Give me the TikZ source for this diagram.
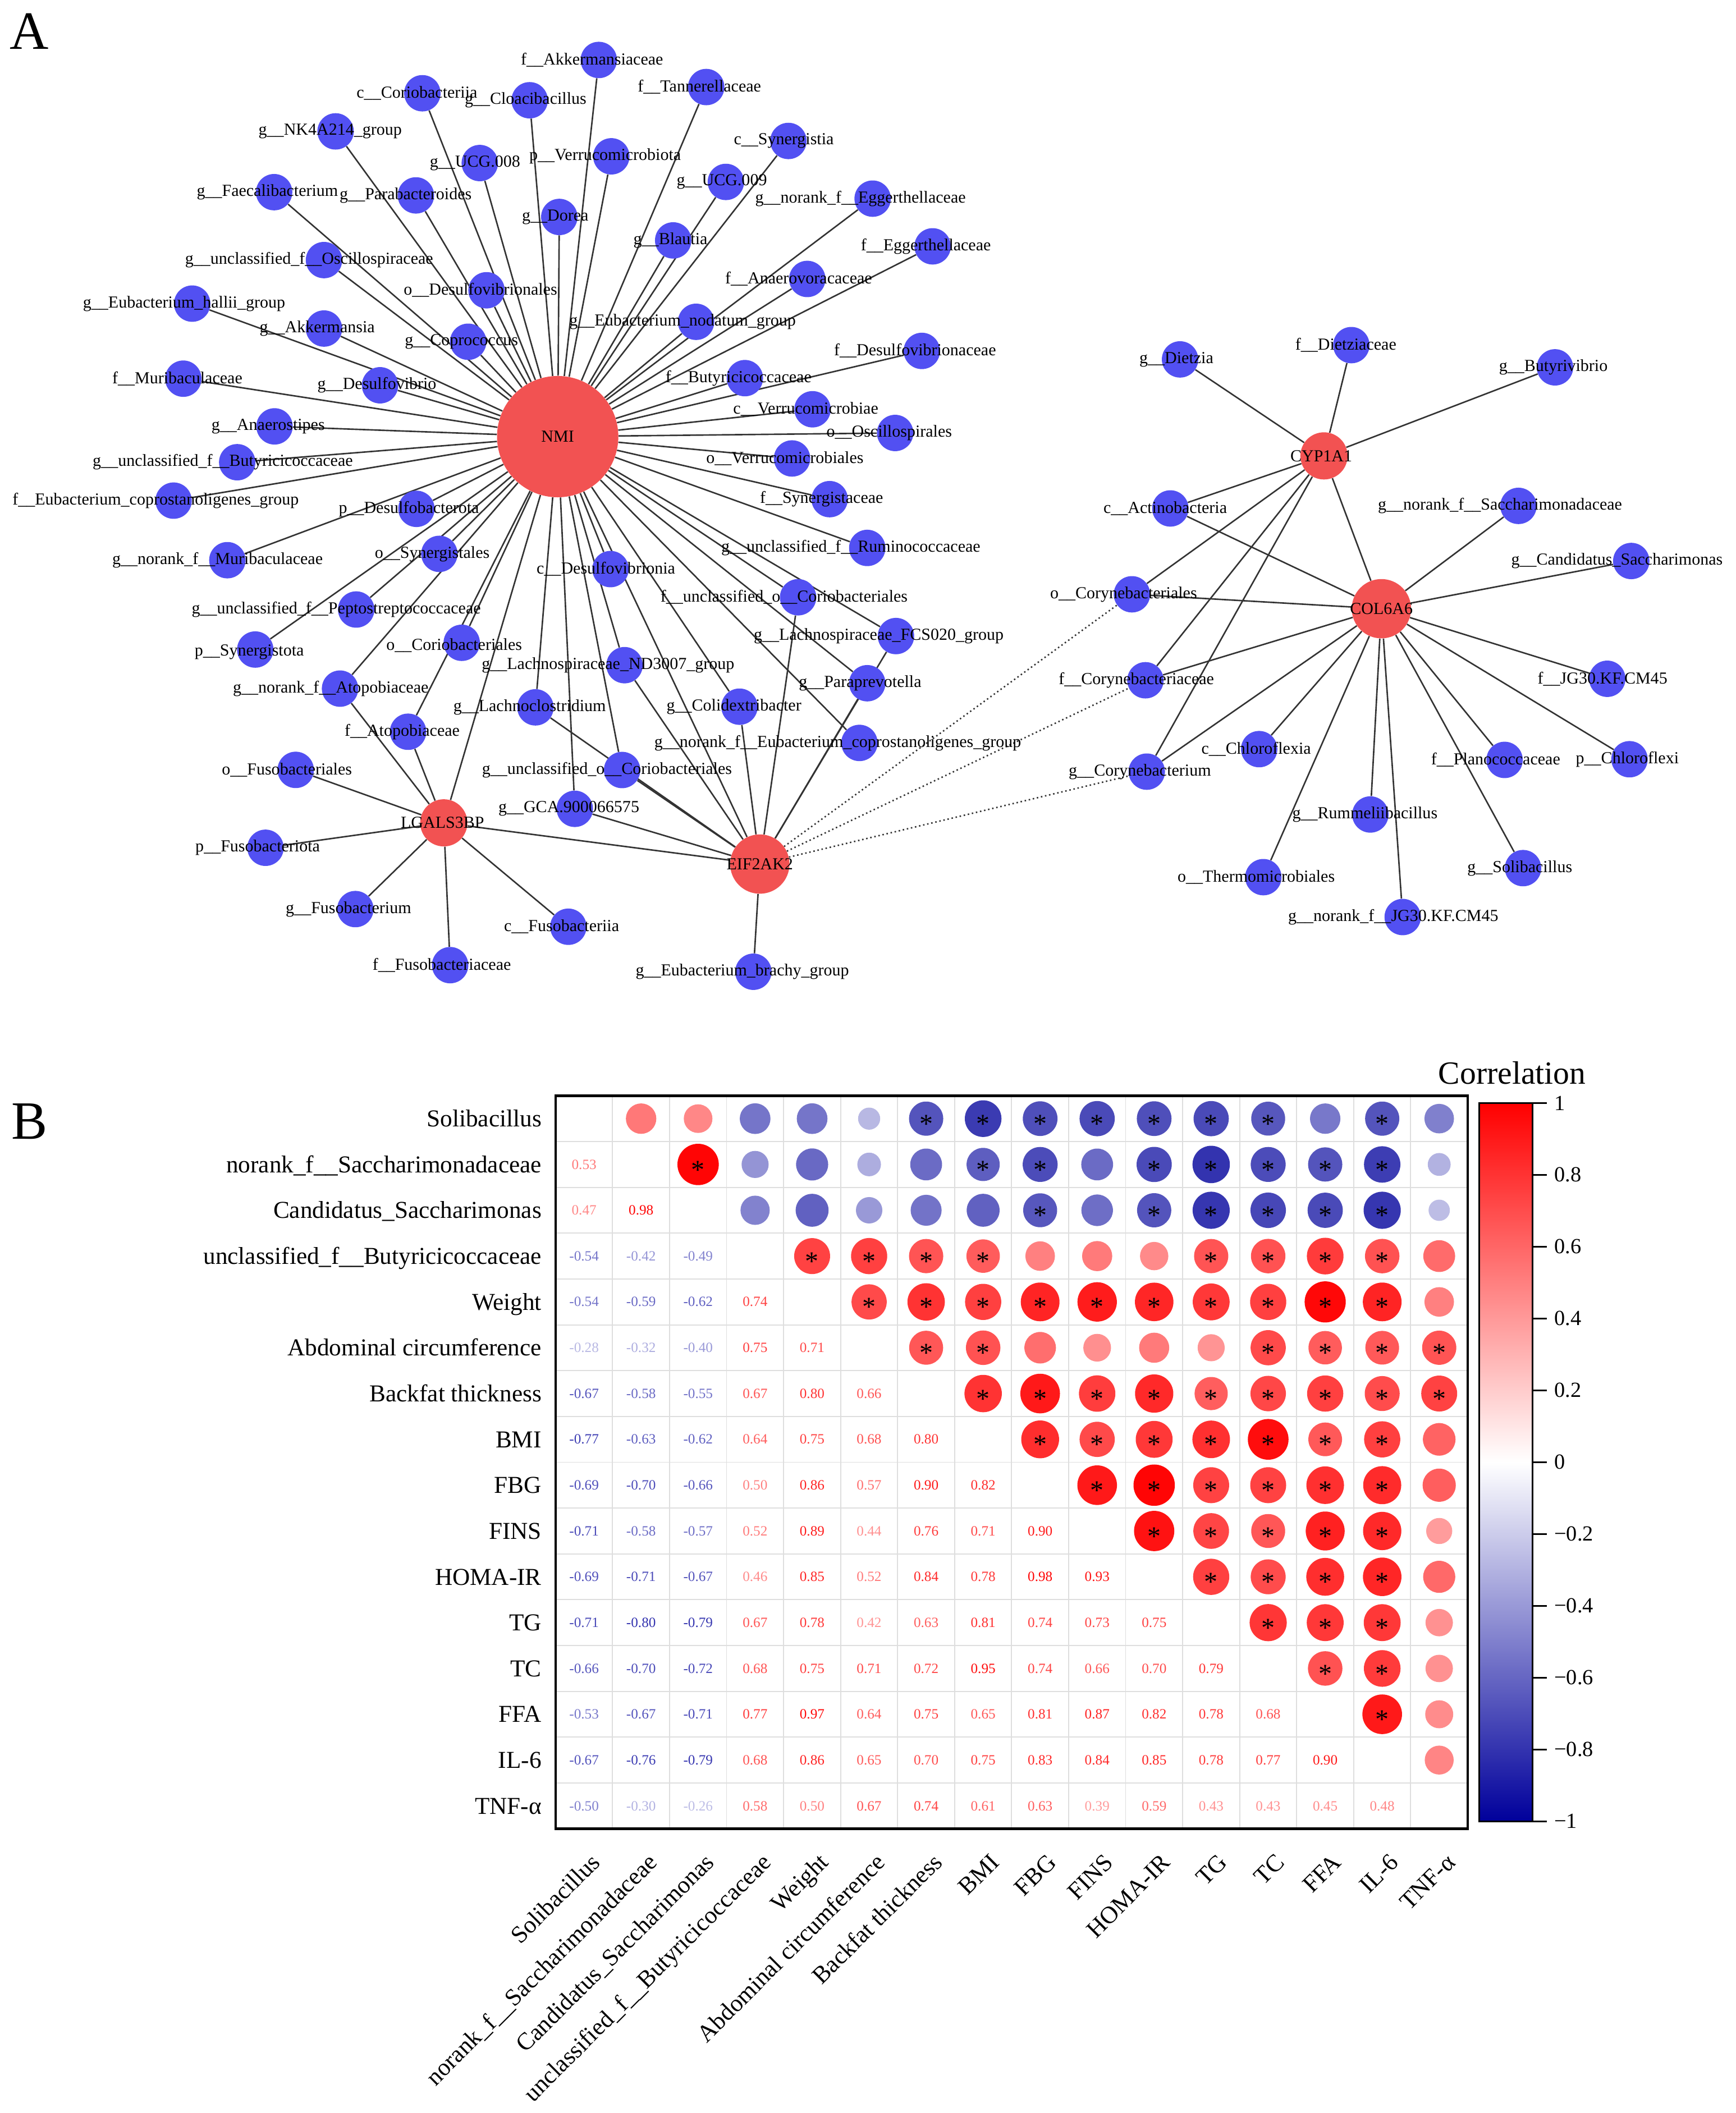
\documentclass[tikz,border=0pt]{standalone}
\usepackage{fontspec}
\setmainfont{Liberation Serif}
\usepackage{xcolor}
\definecolor{microblue}{RGB}{82,80,242}
\definecolor{genered}{RGB}{242,82,82}
\definecolor{negblue}{RGB}{0,0,155}
\definecolor{gridgray}{RGB}{222,222,222}
\pgfdeclarelayer{edges}
\pgfsetlayers{edges,main}
\tikzset{
    micro/.style = {circle, fill=microblue, minimum size=27pt, inner sep=0pt},
    gene/.style = {circle, fill=genered, inner sep=0pt},
    taxon/.style = {font=\fontsize{12.5}{14}\selectfont, inner sep=0pt},
    link/.style = {draw=black!80, line width=1.1pt},
    weak link/.style = {link, dotted},
    valtext/.style = {font=\fontsize{10.5}{12}\selectfont, inner sep=0pt},
    sigmark/.style = {font=\fontsize{20}{20}\selectfont, anchor=base, yshift=-10.5pt, inner sep=0pt},
    rowlab/.style = {font=\fontsize{18}{20}\selectfont, anchor=base east, yshift=-6pt, inner sep=0pt},
    collab/.style = {font=\fontsize{18}{20}\selectfont, anchor=base east, rotate=45, inner sep=0pt},
    barlab/.style = {font=\fontsize{16}{18}\selectfont, anchor=west, xshift=5pt, inner sep=0pt},
    panel/.style = {font=\fontsize{40}{40}\selectfont, inner sep=0pt},
}

\begin{document}
\begin{tikzpicture}[x=1pt, y=-1pt]
\useasboundingbox (0,0) rectangle (1288,1568);

\node[panel] (panelA) at (21.6,23.4) {A};
\node[panel] (panelB) at (22,832) {B};

% gene hubs
\node[gene, minimum size=90pt, label={[taxon]center:NMI}] (nmi) at (413.8,324) {};
\node[gene, minimum size=35pt, label={[taxon, xshift=-1pt]center:LGALS3BP}] (lgals3bp) at (329.3,610.6) {};
\node[gene, minimum size=44pt, label={[taxon]center:EIF2AK2}] (eif2ak2) at (563.8,641.2) {};
\node[gene, minimum size=35pt, label={[taxon, xshift=-2pt]center:CYP1A1}] (cyp1a1) at (982.4,338.3) {};
\node[gene, minimum size=44pt, label={[taxon]center:COL6A6}] (col6a6) at (1025,451.7) {};

% taxa around NMI
\node[micro, label={[taxon, xshift=-4pt]center:c\_\_Coriobacteriia}] (coriobacteriia) at (313.4,69.2) {};
\node[micro, label={[taxon, xshift=-3pt]center:g\_\_Cloacibacillus}] (cloacibacillus) at (393,74.4) {};
\node[micro, label={[taxon, xshift=-5pt]center:f\_\_Akkermansiaceae}] (akkermansiaceae) at (444.3,44.5) {};
\node[micro, label={[taxon, xshift=-5pt]center:f\_\_Tannerellaceae}] (tannerellaceae) at (524,64.6) {};
\node[micro, label={[taxon, xshift=-4pt]center:g\_\_NK4A214\_group}] (nkgroup) at (249,97.5) {};
\node[micro, label={[taxon, xshift=-3.5pt]center:g\_\_UCG.008}] (ucgeight) at (356,121) {};
\node[micro, label={[taxon, xshift=-4.6pt]center:p\_\_Verrucomicrobiota}] (verrucomicrobiota) at (453.6,116) {};
\node[micro, label={[taxon, xshift=-3.4pt]center:c\_\_Synergistia}] (synergistia) at (585,104.6) {};
\node[micro, label={[taxon, xshift=-3pt]center:g\_\_UCG.009}] (ucgnine) at (538.6,135) {};
\node[micro, label={[taxon, xshift=-9pt]center:g\_\_norank\_f\_\_Eggerthellaceae}] (noreggerth) at (647.5,147.4) {};
\node[micro, label={[taxon, xshift=-5pt]center:g\_\_Faecalibacterium}] (faecalibacterium) at (203.4,142.6) {};
\node[micro, label={[taxon, xshift=-7.6pt]center:g\_\_Parabacteroides}] (parabacteroides) at (308.6,145) {};
\node[micro, label={[taxon, xshift=-3pt]center:g\_\_Dorea}] (dorea) at (415,161) {};
\node[micro, label={[taxon, xshift=-2pt]center:g\_\_Blautia}] (blautia) at (499.5,178.4) {};
\node[micro, label={[taxon, xshift=-5pt]center:f\_\_Eggerthellaceae}] (eggerth) at (692,182.8) {};
\node[micro, label={[taxon, xshift=-11pt]center:g\_\_unclassified\_f\_\_Oscillospiraceae}] (uncoscillo) at (240.4,193) {};
\node[micro, label={[taxon, xshift=-4.5pt]center:o\_\_Desulfovibrionales}] (desulfovibrionales) at (361,215.4) {};
\node[micro, label={[taxon, xshift=-6.4pt]center:f\_\_Anaerovoracaceae}] (anaerovora) at (599,207) {};
\node[micro, label={[taxon, xshift=-6pt]center:g\_\_Eubacterium\_hallii\_group}] (hallii) at (142.6,225.3) {};
\node[micro, label={[taxon, xshift=-5pt]center:g\_\_Akkermansia}] (akkermansia) at (240.4,243.8) {};
\node[micro, label={[taxon, xshift=-10pt]center:g\_\_Eubacterium\_nodatum\_group}] (nodatum) at (516.5,238.8) {};
\node[micro, label={[taxon, xshift=-5pt]center:g\_\_Coprococcus}] (coprococcus) at (347.4,253.6) {};
\node[micro, label={[taxon, xshift=-5pt]center:f\_\_Desulfovibrionaceae}] (desulfovibrionaceae) at (684,260.4) {};
\node[micro, label={[taxon, xshift=-2.3pt]center:g\_\_Desulfovibrio}] (desulfovibrio) at (282,285.9) {};
\node[micro, label={[taxon, xshift=-4.4pt]center:f\_\_Muribaculaceae}] (muribaculaceae) at (136,281) {};
\node[micro, label={[taxon, xshift=-4.7pt]center:f\_\_Butyricicoccaceae}] (butyricicoccaceae) at (552.7,280.6) {};
\node[micro, label={[taxon, xshift=-5pt]center:c\_\_Verrucomicrobiae}] (verrucomicrobiae) at (602.9,303.7) {};
\node[micro, label={[taxon, xshift=-4.7pt]center:g\_\_Anaerostipes}] (anaerostipes) at (203.7,316.4) {};
\node[micro, label={[taxon, xshift=-4.4pt]center:o\_\_Oscillospirales}] (oscillospirales) at (664.2,321.3) {};
\node[micro, label={[taxon, xshift=-10.7pt]center:g\_\_unclassified\_f\_\_Butyricicoccaceae}] (uncbutyri) at (176,343) {};
\node[micro, label={[taxon, xshift=-5.3pt]center:o\_\_Verrucomicrobiales}] (verrucomicrobiales) at (587.7,340.2) {};
\node[micro, label={[taxon, xshift=-13.3pt]center:f\_\_Eubacterium\_coprostanoligenes\_group}] (euhcopro) at (128.8,371.5) {};
\node[micro, label={[taxon, xshift=-5.6pt]center:p\_\_Desulfobacterota}] (desulfobacterota) at (309,377.6) {};
\node[micro, label={[taxon, xshift=-6pt]center:f\_\_Synergistaceae}] (synergistaceae) at (615.6,370.4) {};
\node[micro, label={[taxon, xshift=-7.3pt]center:g\_\_norank\_f\_\_Muribaculaceae}] (normuri) at (168.7,415.7) {};
\node[micro, label={[taxon, xshift=-5.3pt]center:o\_\_Synergistales}] (synergistales) at (326,411) {};
\node[micro, label={[taxon, xshift=-12.2pt]center:g\_\_unclassified\_f\_\_Ruminococcaceae}] (uncrumino) at (643.5,406.6) {};
\node[micro, label={[taxon, xshift=-3.4pt]center:c\_\_Desulfovibrionia}] (desulfovibrionia) at (453,422.3) {};
\node[micro, label={[taxon, xshift=-14.8pt]center:g\_\_unclassified\_f\_\_Peptostreptococcaceae}] (uncpepto) at (264.3,452.3) {};
\node[micro, label={[taxon, xshift=-10.4pt]center:f\_\_unclassified\_o\_\_Coriobacteriales}] (funccorio) at (592.2,443.2) {};
\node[micro, label={[taxon, xshift=-5.6pt, yshift=-2pt]center:o\_\_Coriobacteriales}] (coriobacteriales) at (342.6,477) {};
\node[micro, label={[taxon, xshift=-4.4pt, yshift=-2pt]center:p\_\_Synergistota}] (synergistota) at (189.4,482) {};
\node[micro, label={[taxon, xshift=-12.8pt]center:g\_\_Lachnospiraceae\_FCS020\_group}] (fcsgroup) at (664.8,472) {};
\node[micro, label={[taxon, xshift=-12.2pt]center:g\_\_Lachnospiraceae\_ND3007\_group}] (ndgroup) at (463.4,493.6) {};
\node[micro, label={[taxon, xshift=-5.3pt]center:g\_\_Paraprevotella}] (paraprevotella) at (643.5,507) {};
\node[micro, label={[taxon, xshift=-6.9pt]center:g\_\_norank\_f\_\_Atopobiaceae}] (noratopo) at (252.3,511) {};
\node[micro, label={[taxon, xshift=-4.3pt]center:g\_\_Lachnoclostridium}] (lachnoclostridium) at (397.3,524.9) {};
\node[micro, label={[taxon, xshift=-4.1pt]center:g\_\_Colidextribacter}] (colidextribacter) at (548.7,524.4) {};
\node[micro, label={[taxon, xshift=-4.4pt]center:f\_\_Atopobiaceae}] (atopobiaceae) at (302.8,543) {};
\node[micro, label={[taxon, xshift=-16.1pt]center:g\_\_norank\_f\_\_Eubacterium\_coprostanoligenes\_group}] (norcopro) at (637.7,551.3) {};
\node[micro, label={[taxon, xshift=-11.2pt]center:g\_\_unclassified\_o\_\_Coriobacteriales}] (gunccorio) at (461.6,571.4) {};
\node[micro, label={[taxon, xshift=-4.4pt]center:g\_\_GCA.900066575}] (gca) at (426.5,600.2) {};

% taxa of LGALS3BP and EIF2AK2 only
\node[micro, label={[taxon, xshift=-6.5pt]center:o\_\_Fusobacteriales}] (fusobacteriales) at (219.4,571.3) {};
\node[micro, label={[taxon, xshift=-5.8pt]center:p\_\_Fusobacteriota}] (fusobacteriota) at (197,629.1) {};
\node[micro, label={[taxon, xshift=-5.1pt]center:g\_\_Fusobacterium}] (fusobacterium) at (263.7,674.6) {};
\node[micro, label={[taxon, xshift=-6.2pt]center:f\_\_Fusobacteriaceae}] (fusobacteriaceae) at (334,716.2) {};
\node[micro, label={[taxon, xshift=-5pt]center:c\_\_Fusobacteriia}] (fusobacteriia) at (421.7,687.7) {};
\node[micro, label={[taxon, xshift=-8.2pt]center:g\_\_Eubacterium\_brachy\_group}] (brachy) at (559,721.1) {};

% taxa around CYP1A1 and COL6A6
\node[micro, label={[taxon, xshift=-2.7pt]center:g\_\_Dietzia}] (dietzia) at (875.6,266.7) {};
\node[micro, label={[taxon, xshift=-4.1pt]center:f\_\_Dietziaceae}] (dietziaceae) at (1002.7,256.1) {};
\node[micro, label={[taxon, xshift=-1.2pt]center:g\_\_Butyrivibrio}] (butyrivibrio) at (1153.8,272.6) {};
\node[micro, label={[taxon, xshift=-3.8pt]center:c\_\_Actinobacteria}] (actinobacteria) at (868.4,377.3) {};
\node[micro, label={[taxon, xshift=-13.7pt]center:g\_\_norank\_f\_\_Saccharimonadaceae}] (norsaccha) at (1126.7,375.4) {};
\node[micro, label={[taxon, xshift=-10.6pt]center:g\_\_Candidatus\_Saccharimonas}] (candidatus) at (1210.4,416.3) {};
\node[micro, label={[taxon, xshift=-6.2pt]center:o\_\_Corynebacteriales}] (corynebacteriales) at (839.9,441) {};
\node[micro, label={[taxon, xshift=-6.7pt]center:f\_\_Corynebacteriaceae}] (corynebacteriaceae) at (849.9,504.8) {};
\node[micro, label={[taxon, xshift=-3.5pt]center:f\_\_JG30.KF.CM45}] (jgcm) at (1192.6,503.7) {};
\node[micro, label={[taxon, xshift=-2.2pt]center:c\_\_Chloroflexia}] (chloroflexia) at (934.3,555.9) {};
\node[micro, label={[taxon, xshift=-5.1pt]center:g\_\_Corynebacterium}] (corynebacterium) at (850.9,572.6) {};
\node[micro, label={[taxon, xshift=-6.6pt]center:f\_\_Planococcaceae}] (planococcaceae) at (1116.4,563.9) {};
\node[micro, label={[taxon, xshift=-1.6pt]center:p\_\_Chloroflexi}] (chloroflexi) at (1209.1,563.4) {};
\node[micro, label={[taxon, xshift=-4pt]center:g\_\_Rummeliibacillus}] (rummeliibacillus) at (1016.8,604.4) {};
\node[micro, label={[taxon, xshift=-5.3pt]center:o\_\_Thermomicrobiales}] (thermomicrobiales) at (937.4,650.9) {};
\node[micro, label={[taxon, xshift=-2.4pt]center:g\_\_Solibacillus}] (solibacillus) at (1130.1,644.2) {};
\node[micro, label={[taxon, xshift=-7pt]center:g\_\_norank\_f\_\_JG30.KF.CM45}] (norjgcm) at (1040.8,680.5) {};

% connectors behind the nodes
\begin{pgfonlayer}{edges}
  \foreach \t in {coriobacteriia, cloacibacillus, akkermansiaceae, tannerellaceae, nkgroup, ucgeight, verrucomicrobiota, synergistia, ucgnine, noreggerth, faecalibacterium, parabacteroides, dorea, blautia, eggerth, uncoscillo, desulfovibrionales, anaerovora, hallii, akkermansia, nodatum, coprococcus, desulfovibrionaceae, desulfovibrio, muribaculaceae, butyricicoccaceae, verrucomicrobiae, anaerostipes, oscillospirales, uncbutyri, verrucomicrobiales, euhcopro, desulfobacterota, synergistaceae, normuri, synergistales, uncrumino, desulfovibrionia, uncpepto, funccorio, coriobacteriales, synergistota, fcsgroup, ndgroup, paraprevotella, noratopo, lachnoclostridium, colidextribacter, atopobiaceae, norcopro, gunccorio, gca, lgals3bp, eif2ak2}
    \draw[link] (nmi) -- (\t);
  \foreach \t in {noratopo, atopobiaceae, fusobacteriales, fusobacteriota, fusobacterium, fusobacteriaceae, fusobacteriia, eif2ak2}
    \draw[link] (lgals3bp) -- (\t);
  \foreach \t in {gca, gunccorio, lachnoclostridium, ndgroup, colidextribacter, funccorio, paraprevotella, fcsgroup, brachy}
    \draw[link] (eif2ak2) -- (\t);
  \foreach \t in {corynebacteriales, corynebacteriaceae, corynebacterium}
    \draw[weak link] (eif2ak2) -- (\t);
  \foreach \t in {dietzia, dietziaceae, butyrivibrio, actinobacteria, col6a6, corynebacteriales, corynebacteriaceae, corynebacterium}
    \draw[link] (cyp1a1) -- (\t);
  \foreach \t in {actinobacteria, norsaccha, candidatus, corynebacteriales, corynebacteriaceae, corynebacterium, jgcm, chloroflexia, planococcaceae, chloroflexi, rummeliibacillus, thermomicrobiales, solibacillus, norjgcm}
    \draw[link] (col6a6) -- (\t);
\end{pgfonlayer}

% correlation matrix: grid
\foreach \k in {1,...,15} {
  \draw[gridgray, line width=0.8pt] ({412.2+42.3*\k},813.1) -- ({412.2+42.3*\k},1357.1);
  \draw[gridgray, line width=0.8pt] (412.2,{813.1+34*\k}) -- (1089,{813.1+34*\k});
}

% value below the diagonal, circle above it (1 = significant)
\foreach \row/\entries in {
  2/{0.53/0},
  3/{0.47/0,0.98/1},
  4/{-0.54/0,-0.42/0,-0.49/0},
  5/{-0.54/0,-0.59/0,-0.62/0,0.74/1},
  6/{-0.28/0,-0.32/0,-0.40/0,0.75/1,0.71/1},
  7/{-0.67/1,-0.58/0,-0.55/0,0.67/1,0.80/1,0.66/1},
  8/{-0.77/1,-0.63/1,-0.62/0,0.64/1,0.75/1,0.68/1,0.80/1},
  9/{-0.69/1,-0.70/1,-0.66/1,0.50/0,0.86/1,0.57/0,0.90/1,0.82/1},
  10/{-0.71/1,-0.58/0,-0.57/0,0.52/0,0.89/1,0.44/0,0.76/1,0.71/1,0.90/1},
  11/{-0.69/1,-0.71/1,-0.67/1,0.46/0,0.85/1,0.52/0,0.84/1,0.78/1,0.98/1,0.93/1},
  12/{-0.71/1,-0.80/1,-0.79/1,0.67/1,0.78/1,0.42/0,0.63/1,0.81/1,0.74/1,0.73/1,0.75/1},
  13/{-0.66/1,-0.70/1,-0.72/1,0.68/1,0.75/1,0.71/1,0.72/1,0.95/1,0.74/1,0.66/1,0.70/1,0.79/1},
  14/{-0.53/0,-0.67/1,-0.71/1,0.77/1,0.97/1,0.64/1,0.75/1,0.65/1,0.81/1,0.87/1,0.82/1,0.78/1,0.68/1},
  15/{-0.67/1,-0.76/1,-0.79/1,0.68/1,0.86/1,0.65/1,0.70/1,0.75/1,0.83/1,0.84/1,0.85/1,0.78/1,0.77/1,0.90/1},
  16/{-0.50/0,-0.30/0,-0.26/0,0.58/0,0.50/0,0.67/1,0.74/1,0.61/0,0.63/0,0.39/0,0.59/0,0.43/0,0.43/0,0.45/0,0.48/0}} {
  \foreach \v/\s [count=\col] in \entries {
    \pgfmathsetmacro{\lx}{433.4+42.3*(\col-1)}
    \pgfmathsetmacro{\ly}{830.1+34*(\row-1)}
    \pgfmathsetmacro{\ux}{433.4+42.3*(\row-1)}
    \pgfmathsetmacro{\uy}{830.1+34*(\col-1)}
    \pgfmathsetmacro{\pct}{100*abs(\v)}
    \pgfmathsetmacro{\rad}{15.5*sqrt(abs(\v))}
    \pgfmathtruncatemacro{\isneg}{\v<0}
    \ifnum\isneg=1 \colorlet{cellcol}{negblue!\pct!white}\else\colorlet{cellcol}{red!\pct!white}\fi
    \node[valtext, text=cellcol] at (\lx,\ly) {\v};
    \fill[cellcol] (\ux,\uy) circle[radius=\rad];
    \ifnum\s=1 \node[sigmark] at (\ux,\uy) {*};\fi
  }
}
\draw[line width=1.8pt] (412.2,813.1) rectangle (1089,1357.1);

% row and column names
\foreach \name [count=\i] in {Solibacillus, norank\_f\_\_Saccharimonadaceae, Candidatus\_Saccharimonas, unclassified\_f\_\_Butyricicoccaceae, Weight, Abdominal circumference, Backfat thickness, BMI, FBG, FINS, HOMA-IR, TG, TC, FFA, IL-6, TNF-α} {
  \node[rowlab] (row\i) at (402,{830.1+34*(\i-1)}) {\name};
  \node[collab] (col\i) at ({433.4+42.3*(\i-1)+13},1383) {\name};
}

% colour bar
\node[font=\fontsize{24}{26}\selectfont, inner sep=0pt] (bartitle) at (1122,796) {Correlation};
\shade[top color=red, bottom color=negblue, middle color=white] (1097.7,818.5) rectangle (1137.1,1351.5);
\draw[line width=1.2pt] (1097.7,818.5) rectangle (1137.1,1351.5);
\foreach \k/\t in {0/1, 1/0.8, 2/0.6, 3/0.4, 4/0.2, 5/0, 6/−0.2, 7/−0.4, 8/−0.6, 9/−0.8, 10/−1}
  \draw[line width=1.2pt] (1137.1,{818.5+53.3*\k}) -- (1147.7,{818.5+53.3*\k}) node[barlab] {\t};
\end{tikzpicture}
\end{document}
